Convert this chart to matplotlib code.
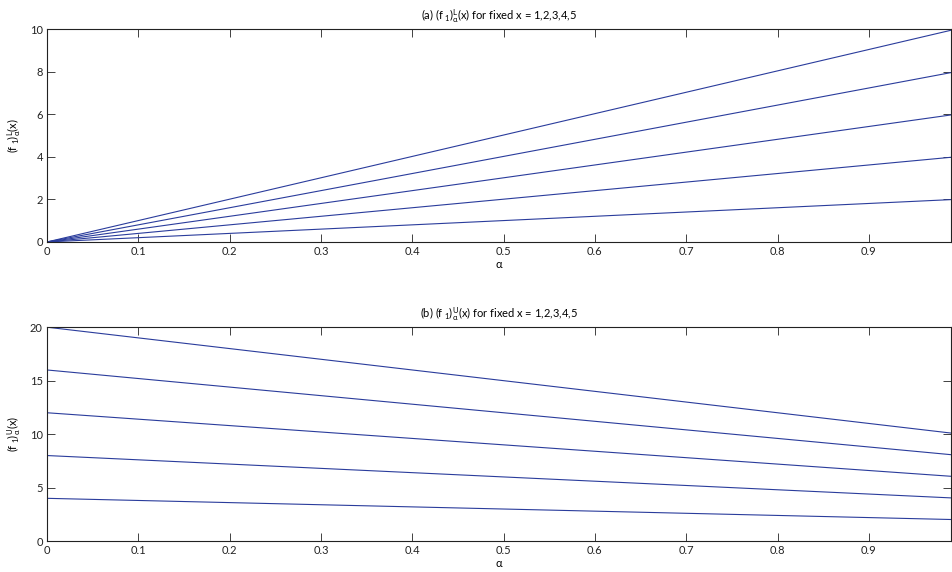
import matplotlib
matplotlib.use("Agg")
import matplotlib.pyplot as plt

# Data
x_fixed = [1, 2, 3, 4, 5]
alpha_pts = [0.0, 0.99]
lower_start = [0, 0, 0, 0, 0]
lower_end = [1.99, 3.98, 5.97, 7.96, 9.95]
upper_start = [4, 8, 12, 16, 20]
upper_end = [2.02, 4.04, 6.06, 8.08, 10.1]
xticks = [0, 0.1, 0.2, 0.3, 0.4, 0.5, 0.6, 0.7, 0.8, 0.9]
top_yticks = [0, 2, 4, 6, 8, 10]
bot_yticks = [0, 5, 10, 15, 20]

plt.rcParams['font.family'] = ['Lato', 'DejaVu Sans']
plt.rcParams['mathtext.fontset'] = 'custom'
plt.rcParams['mathtext.rm'] = 'Lato'
plt.rcParams['mathtext.it'] = 'Lato'
plt.rcParams['mathtext.default'] = 'regular'

color = '#2a3c9c'
fs = 8

fig = plt.figure(figsize=(9.53, 5.72), dpi=100)
ax1 = fig.add_axes([0.0493, 0.577, 0.9487, 0.372])
ax2 = fig.add_axes([0.0493, 0.054, 0.9487, 0.374])

for i, xv in enumerate(x_fixed):
    ax1.plot(alpha_pts, [lower_start[i], lower_end[i]], color=color, lw=0.8)
    ax2.plot(alpha_pts, [upper_start[i], upper_end[i]], color=color, lw=0.8)

def style(ax, yticks, ylim):
    ax.set_xlim(0, 0.99)
    ax.set_ylim(*ylim)
    ax.set_xticks(xticks)
    ax.set_xticklabels(['0'] + [f'{t:g}' for t in xticks[1:]])
    ax.set_yticks(yticks)
    ax.tick_params(direction='in', top=True, right=True, length=6, width=0.6,
                   labelsize=fs, colors='#222222', pad=3)
    for s in ax.spines.values():
        s.set_linewidth(0.8)
        s.set_color('#222222')
    ax.set_xlabel('α', fontsize=fs, labelpad=1)

style(ax1, top_yticks, (0, 10))
style(ax2, bot_yticks, (0, 20))

ax1.set_title(r'(a) (f$_{\ 1}$)$^{L}_{\alpha}$(x) for fixed x = 1,2,3,4,5', fontsize=fs, pad=7)
ax2.set_title(r'(b) (f$_{\ 1}$)$^{U}_{\alpha}$(x) for fixed x = 1,2,3,4,5', fontsize=fs, pad=7)
ax1.set_ylabel(r'(f$_{\ 1}$)$^{L}_{\alpha}$(x)', fontsize=fs, labelpad=5)
ax2.set_ylabel(r'(f$_{\ 1}$)$^{U}_{\alpha}$(x)', fontsize=fs, labelpad=5)

fig.savefig('out.png', dpi=100)
